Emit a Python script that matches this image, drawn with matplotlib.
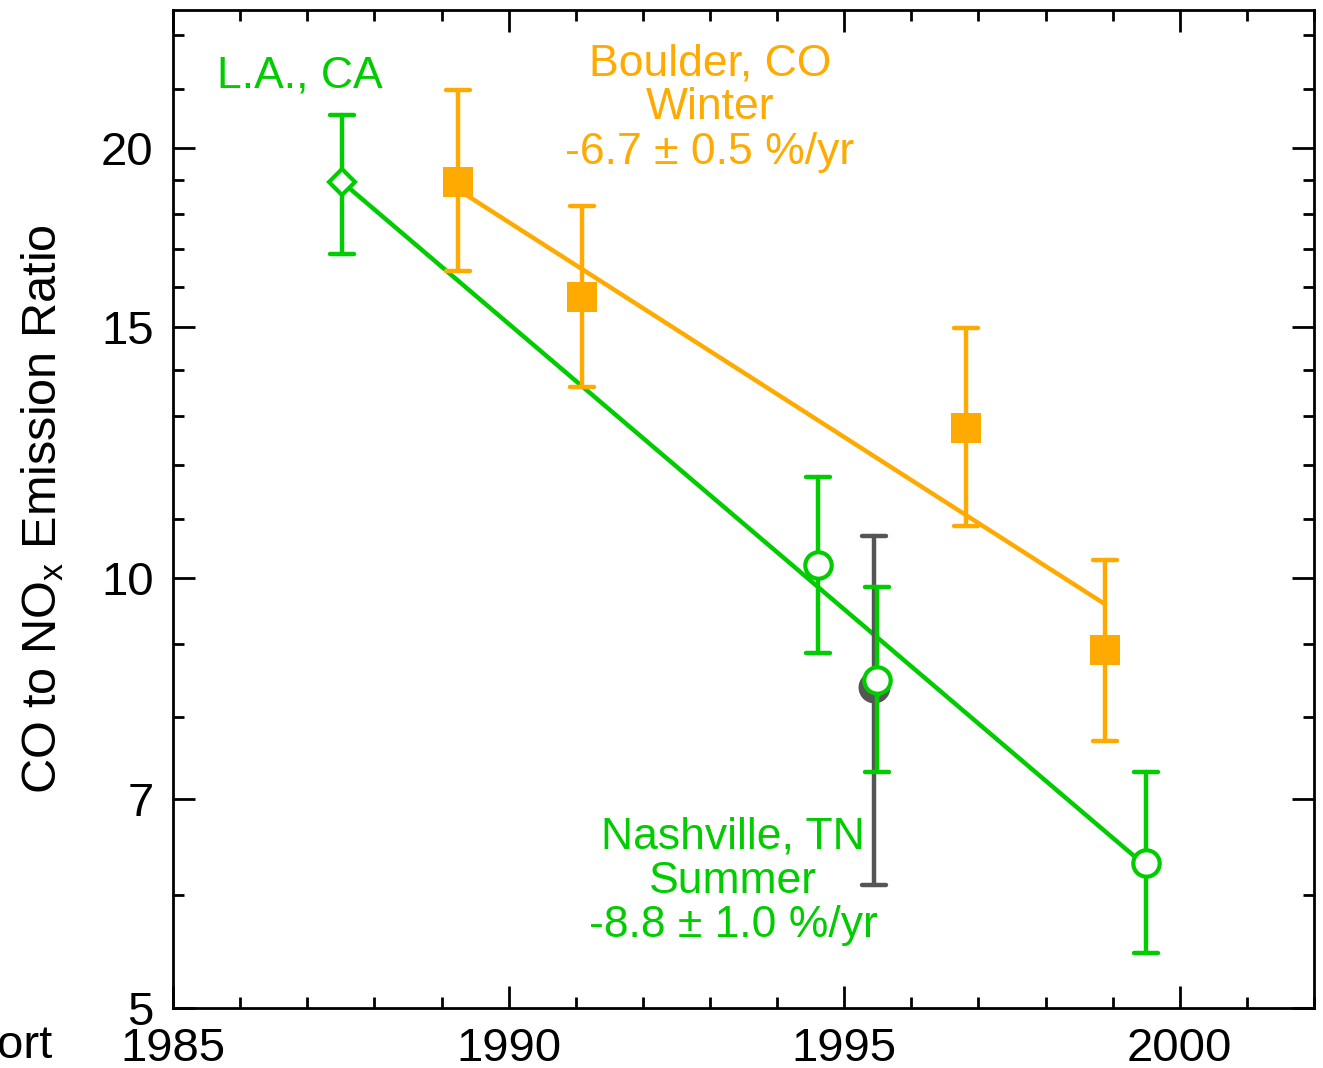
import numpy as np
import matplotlib
matplotlib.use('Agg')
import matplotlib.pyplot as plt
from matplotlib.markers import MarkerStyle
from matplotlib.ticker import FixedLocator, NullFormatter

plt.rcParams['font.family'] = ['Liberation Sans', 'DejaVu Sans']
plt.rcParams['mathtext.default'] = 'regular'

GREEN = '#00CC00'
ORANGE = '#FFAA00'
GRAY = '#555555'

# L.A., CA
la_year = [1987.51]
la_ratio = [18.96]
la_lo = [16.86]
la_hi = [21.10]

# Boulder, CO winter
boulder_year = [1989.24, 1991.10, 1996.82, 1998.88]
boulder_ratio = [18.96, 15.73, 12.75, 8.91]
boulder_lo = [16.40, 13.62, 10.88, 7.69]
boulder_hi = [21.96, 18.24, 14.96, 10.30]

# Nashville, TN summer
nash_year = [1994.61, 1995.49, 1999.49]
nash_ratio = [10.22, 8.49, 6.32]
nash_lo = [8.87, 7.31, 5.46]
nash_hi = [11.78, 9.86, 7.31]

# extra grey point
grey_year = [1995.45]
grey_ratio = [8.39]
grey_lo = [6.10]
grey_hi = [10.71]

# trend fits (%/yr) with value at the start of each fit
boulder_rate = -6.7
boulder_start = 18.72
nash_rate = -8.8
nash_start = 18.96

y_major = [5, 7, 10, 15, 20]
y_minor = [6, 8, 9, 11, 12, 13, 14, 16, 17, 18, 19, 22, 24]


def errbar(ax, x, y, lo, hi, color, z):
    y = np.array(y)
    err = [y - np.array(lo), np.array(hi) - y]
    eb = ax.errorbar(x, y, yerr=err, fmt='none', ecolor=color,
                     elinewidth=3.2, capsize=8.5, capthick=3.2, zorder=z)
    for line in eb[2]:
        line.set_capstyle('round')
    for cap in eb[1]:
        cap.set_marker(MarkerStyle('_', capstyle='round'))


def fit_line(ax, years, start, rate, color):
    t = np.linspace(years[0], years[-1], 50)
    ax.plot(t, start * (1 + rate / 100.0) ** (t - years[0]),
            color=color, lw=3.2, zorder=2)


fig = plt.figure(figsize=(13.23, 10.68), dpi=100)
ax = fig.add_axes([0.1308, 0.0562, 0.8624, 0.9344])
ax.set_yscale('log')

fit_line(ax, la_year + nash_year, nash_start, nash_rate, GREEN)
fit_line(ax, boulder_year, boulder_start, boulder_rate, ORANGE)

errbar(ax, grey_year, grey_ratio, grey_lo, grey_hi, GRAY, 3)
ax.plot(grey_year, grey_ratio, 'o', color=GRAY, ms=23, mew=0, zorder=3.5)

errbar(ax, la_year, la_ratio, la_lo, la_hi, GREEN, 4)
ax.plot(la_year, la_ratio, 'D', mfc='white', mec=GREEN, ms=13, mew=3, zorder=5)

errbar(ax, boulder_year, boulder_ratio, boulder_lo, boulder_hi, ORANGE, 4)
ax.plot(boulder_year, boulder_ratio, 's', color=ORANGE, ms=22, mew=0, zorder=5)

errbar(ax, nash_year, nash_ratio, nash_lo, nash_hi, GREEN, 4)
ax.plot(nash_year, nash_ratio, 'o', mfc='white', mec=GREEN, ms=19, mew=3, zorder=5)

ax.set_xlim(1985, 2002)
ax.set_ylim(5, 25)

ax.xaxis.set_major_locator(FixedLocator([1985, 1990, 1995, 2000]))
ax.xaxis.set_minor_locator(FixedLocator(np.arange(1985, 2003, 1)))
ax.yaxis.set_major_locator(FixedLocator(y_major))
ax.yaxis.set_minor_locator(FixedLocator(y_minor))
ax.set_yticklabels([str(v) for v in y_major])
ax.yaxis.set_minor_formatter(NullFormatter())

ax.tick_params(which='both', direction='in', top=True, right=True, width=2,
               labelsize=34)
ax.tick_params(which='major', length=16)
ax.tick_params(which='minor', length=8)
ax.tick_params(axis='x', pad=14)
ax.tick_params(axis='y', pad=14)
for s in ax.spines.values():
    s.set_linewidth(2)

ax.set_ylabel('CO to NO$_x$ Emission Ratio', fontsize=35)
ax.yaxis.set_label_coords(-0.0935, 0.5)

ax.text(0.111, 0.934, 'L.A., CA', color=GREEN, fontsize=32,
        ha='center', va='center', transform=ax.transAxes)
ax.text(0.4706, 0.902, 'Boulder, CO\nWinter\n-6.7 \u00b1 0.5 %/yr', color=ORANGE,
        fontsize=32, ha='center', va='center', linespacing=1.1,
        transform=ax.transAxes)
ax.text(0.4908, 0.127, 'Nashville, TN\nSummer\n-8.8 \u00b1 1.0 %/yr', color=GREEN,
        fontsize=32, ha='center', va='center', linespacing=1.1,
        transform=ax.transAxes)

fig.text(-0.002, 0.0206, 'ort', fontsize=34, ha='left', va='center')

fig.savefig('out.png', dpi=100)
